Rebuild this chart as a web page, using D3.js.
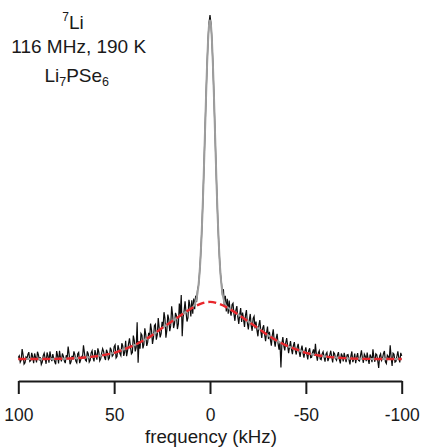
<!DOCTYPE html>
<html>
<head>
<meta charset="utf-8">
<script src="https://cdn.jsdelivr.net/npm/d3@7/dist/d3.min.js"></script>
<style>
  html, body { margin: 0; padding: 0; background: #fff; }
  svg { display: block; }
  text { font-family: "Liberation Sans", Arial, Helvetica, sans-serif; fill: #1a1a1a; }
</style>
</head>
<body>
<svg id="chart" width="422" height="447"></svg>
<script>
// ---- data (frequency in kHz, intensity in arbitrary units, peak = 100) ----
const tickValues = [100, 50, 0, -50, -100];
const tickLabels = ["100", "50", "0", "-50", "-100"];
const axisTitle = "frequency (kHz)";

// measured spectrum, left wing (100 → 10 kHz)
const dataLeft = [
  [100,0.4],[99.5,0.9],[99,-0.9],[98.5,-0.3],[98,2.9],[97.5,1.2],[97,-1.5],[96.5,-1.1],[96,0.6],[95.5,0.2],
  [95,1.3],[94.5,2.0],[94,-0.7],[93.5,-0.4],[93,1.8],[92.5,0.6],[92,-1.2],[91.5,1.6],[91,0.5],[90.5,-1.0],
  [90,2.1],[89.5,1.2],[89,-0.4],[88.5,0.5],[88,-1.6],[87.5,-0.9],[87,1.0],[86.5,1.7],[86,0.2],[85.5,-1.4],
  [85,1.9],[84.5,0.9],[84,-1.1],[83.5,2.2],[83,0.6],[82.5,-0.6],[82,1.4],[81.5,0.1],[81,-0.8],[80.5,-1.5],
  [80,2.3],[79.5,1.0],[79,-1.3],[78.5,2.4],[78,0.4],[77.5,-0.7],[77,1.6],[76.5,0.8],[76,-0.5],[75.5,-1.2],
  [75,1.1],[74.5,0.3],[74,3.6],[73.5,1.4],[73,-1.5],[72.5,-0.8],[72,0.9],[71.5,-0.2],[71,2.2],[70.5,1.3],
  [70,-0.6],[69.5,-1.1],[69,1.5],[68.5,1.9],[68,-1.2],[67.5,-0.3],[67,0.7],[66.5,0.5],[66,4.0],[65.5,1.8],
  [65,-0.3],[64.5,-0.6],[64,2.2],[63.5,1.5],[63,-0.9],[62.5,-0.4],[62,1.8],[61.5,2.4],[61,0.3],[60.5,-0.7],
  [60,2.6],[59.5,1.3],[59,-0.2],[58.5,3.1],[58,2.0],[57.5,-0.5],[57,0.1],[56.5,1.7],[56,3.0],[55.5,2.2],
  [55,0.4],[54.5,-0.3],[54,2.7],[53.5,1.9],[53,-0.1],[52.5,0.3],[52,3.3],[51.5,2.6],[51,0.8],[50.5,1.2],
  [50,3.6],[49.5,4.1],[49,0.3],[48.5,0.7],[48,4.0],[47.5,2.9],[47,1.6],[46.5,1.0],[46,4.6],[45.5,3.8],
  [45,0.9],[44.5,2.0],[44,5.3],[43.5,0.8],[43,2.4],[42.5,4.4],[42,6.0],[41.5,3.7],[41,1.5],[40.5,1.9],
  [40,6.8],[39.5,5.4],[39,2.2],[38.5,3.4],[38,10.7],[37.5,-1.1],[37,5.2],[36.5,3.0],[36,7.4],[35.5,6.9],
  [35,3.1],[34.5,4.2],[34,8.9],[33.5,7.1],[33,3.8],[32.5,4.9],[32,7.6],[31.5,6.0],[31,10.3],[30.5,8.4],
  [30,4.4],[29.5,6.1],[29,9.7],[28.5,10.1],[28,5.6],[27.5,7.0],[27,11.9],[26.5,8.9],[26,6.3],[25.5,7.4],
  [25,10.8],[24.5,9.1],[24,13.6],[23.5,11.8],[23,6.2],[22.5,8.4],[22,12.9],[21.5,11.6],[21,8.1],[20.5,9.7],
  [20,15.3],[19.5,12.8],[19,9.0],[18.5,10.3],[18,13.4],[17.5,12.6],[17,8.7],[16.5,10.2],[16,16.1],[15.5,12.9],
  [15,18.6],[14.5,6.6],[14,12.2],[13.5,14.0],[13,16.8],[12.5,13.5],[12,10.9],[11.5,12.0],[11,17.2],[10.5,15.6],
  [10,12.4]
];
// measured spectrum, central line (9.5 → -9.5 kHz)
const dataCenter = [
  [9.5,17.1],[9,13.2],[8.5,17.6],[8,14.5],[7.5,18.4],[7,16.6],[6.5,20.2],[6,21.3],[5.5,24.6],[5,28.9],
  [4.5,34.5],[4,41.4],[3.5,49.5],[3,58.6],[2.5,68.1],[2,77.5],[1.5,85.9],[1,92.9],[0.5,97.8],[0,100],
  [-0.5,97.6],[-1,92.8],[-1.5,85.9],[-2,77.5],[-2.5,68.1],[-3,58.6],[-3.5,49.5],[-4,41.4],[-4.5,34.5],[-5,28.9],
  [-5.5,24.6],[-6,22.0],[-6.5,18.5],[-7,20.3],[-7.5,15.1],[-8,18.4],[-8.5,13.8],[-9,17.5],[-9.5,13.2]
];
// measured spectrum, right wing (-10 → -100 kHz)
const dataRight = [
  [-10,17.0],[-10.5,13.9],[-11,12.6],[-11.5,15.8],[-12,16.2],[-12.5,13.0],[-13,11.1],[-13.5,14.2],[-14,15.4],[-14.5,12.3],
  [-15,10.2],[-15.5,12.9],[-16,14.8],[-16.5,10.8],[-17,13.5],[-17.5,11.6],[-18,9.3],[-18.5,12.7],[-19,14.2],[-19.5,10.4],
  [-20,8.6],[-20.5,11.3],[-21,13.1],[-21.5,9.6],[-22,8.2],[-22.5,11.8],[-23,12.4],[-23.5,8.9],[-24,10.9],[-24.5,8.3],
  [-25,6.6],[-25.5,9.9],[-26,11.3],[-26.5,8.1],[-27,6.1],[-27.5,9.0],[-28,9.8],[-28.5,7.1],[-29,5.2],[-29.5,7.6],
  [-30,9.4],[-30.5,5.8],[-31,7.9],[-31.5,5.6],[-32,3.9],[-32.5,6.9],[-33,8.6],[-33.5,5.3],[-34,3.6],[-34.5,5.9],
  [-35,7.3],[-35.5,4.6],[-36,2.7],[-36.5,4.9],[-37,-2.5],[-37.5,4.5],[-38,6.4],[-38.5,3.8],[-39,2.5],[-39.5,4.7],
  [-40,6.1],[-40.5,3.9],[-41,1.7],[-41.5,3.6],[-42,5.2],[-42.5,2.8],[-43,1.4],[-43.5,3.9],[-44,4.9],[-44.5,2.5],
  [-45,1.3],[-45.5,3.4],[-46,4.4],[-46.5,2.1],[-47,0.6],[-47.5,2.6],[-48,3.9],[-48.5,1.8],[-49,0.4],[-49.5,2.2],
  [-50,3.4],[-50.5,1.4],[-51,-0.1],[-51.5,2.4],[-52,3.1],[-52.5,0.4],[-53,0.5],[-53.5,1.9],[-54,2.8],[-54.5,0.9],
  [-55,4.4],[-55.5,1.2],[-56,-0.5],[-56.5,1.8],[-57,2.4],[-57.5,0.0],[-58,-0.2],[-58.5,1.5],[-59,2.1],[-59.5,0.6],
  [-60,-0.8],[-60.5,1.4],[-61,1.9],[-61.5,-0.6],[-62,0.3],[-62.5,1.2],[-63,2.4],[-63.5,0.5],[-64,-1.0],[-64.5,1.9],
  [-65,1.5],[-65.5,0.1],[-66,-0.4],[-66.5,1.1],[-67,2.0],[-67.5,-0.2],[-68,-1.3],[-68.5,1.6],[-69,0.9],[-69.5,-0.7],
  [-70,1.8],[-70.5,0.4],[-71,-0.9],[-71.5,1.2],[-72,1.3],[-72.5,-0.2],[-73,-1.6],[-73.5,0.9],[-74,2.2],[-74.5,-0.9],
  [-75,0.0],[-75.5,1.6],[-76,-1.2],[-76.5,0.5],[-77,1.7],[-77.5,-0.4],[-78,-0.6],[-78.5,1.0],[-79,2.5],[-79.5,0.3],
  [-80,-1.1],[-80.5,1.4],[-81,0.8],[-81.5,-0.6],[-82,1.9],[-82.5,-0.2],[-83,-1.4],[-83.5,1.3],[-84,0.6],[-84.5,-0.9],
  [-85,2.8],[-85.5,0.4],[-86,-0.8],[-86.5,1.5],[-87,1.2],[-87.5,-0.5],[-88,-2.6],[-88.5,0.9],[-89,1.5],[-89.5,-0.4],
  [-90,0.2],[-90.5,1.6],[-91,2.3],[-91.5,-0.8],[-92,-1.3],[-92.5,1.1],[-93,0.7],[-93.5,-0.2],[-94,4.0],[-94.5,0.5],
  [-95,-2.0],[-95.5,1.7],[-96,1.4],[-96.5,-0.9],[-97,-0.7],[-97.5,0.8],[-98,2.2],[-98.5,0.3],[-99,-1.0],[-99.5,1.8],
  [-100,0.9]
];

// broad component of the fit (red dashed)
const broadFreq = [100,95,90,85,80,75,70,65,60,55,50,45,40,35,30,25,20,15,10,5,0,
                   -5,-10,-15,-20,-25,-30,-35,-40,-45,-50,-55,-60,-65,-70,-75,-80,-85,-90,-95,-100];
const broadFit  = [0,0,0,0.02,0.05,0.1,0.25,0.45,0.75,1.2,1.8,2.8,3.9,5.3,7.0,9.0,10.9,12.8,14.6,16.0,16.6,
                   16.0,14.6,12.8,10.9,9.0,7.0,5.3,3.9,2.8,1.8,1.2,0.75,0.45,0.25,0.1,0.05,0.02,0,0,0];

// total fit (grey)
const fitFreq = [100,95,90,85,80,75,70,65,60,55,50,45,40,35,30,25,20,15,10,
                 9.5,9,8.5,8,7.5,7,6.5,6,5.5,5,4.5,4,3.5,3,2.5,2,1.5,1,0.5,0,
                 -0.5,-1,-1.5,-2,-2.5,-3,-3.5,-4,-4.5,-5,-5.5,-6,-6.5,-7,-7.5,-8,-8.5,-9,-9.5,
                 -10,-15,-20,-25,-30,-35,-40,-45,-50,-55,-60,-65,-70,-75,-80,-85,-90,-95,-100];
const fitTotal = [0,0,0,0.02,0.05,0.1,0.25,0.45,0.75,1.2,1.8,2.8,3.9,5.3,7.0,9.0,10.9,12.8,14.65,
                  14.9,15.1,15.4,15.9,16.6,17.7,19.25,21.5,24.6,28.9,34.5,41.4,49.5,58.6,68.1,77.5,85.9,92.7,97.0,98.5,
                  97.0,92.7,85.9,77.5,68.1,58.6,49.5,41.4,34.5,28.9,24.6,21.5,19.25,17.7,16.6,15.9,15.4,15.1,14.9,
                  14.65,12.8,10.9,9.0,7.0,5.3,3.9,2.8,1.8,1.2,0.75,0.45,0.25,0.1,0.05,0.02,0,0,0];

// ---- drawing ----
const svg = d3.select("#chart");
const x = d3.scaleLinear().domain([100, -100]).range([18.3, 401.7]);
const y = d3.scaleLinear().domain([0, 100]).range([359, 15]);

const spectrum = d3.sort(dataLeft.concat(dataCenter, dataRight), (a, b) => b[0] - a[0]);

svg.append("path")
  .datum(spectrum)
  .attr("fill", "none")
  .attr("stroke", "#0d0d0d")
  .attr("stroke-width", 1.2)
  .attr("d", d3.line().x(d => x(d[0])).y(d => y(d[1])));

const fitPts = fitFreq.map((f, i) => [f, fitTotal[i]]);
svg.append("path")
  .datum(fitPts)
  .attr("fill", "none")
  .attr("stroke", "#9d9d9d")
  .attr("stroke-width", 2)
  .attr("d", d3.line().curve(d3.curveMonotoneX).x(d => x(d[0])).y(d => y(d[1])));

const broadPts = broadFreq.map((f, i) => [f, broadFit[i]]);
svg.append("path")
  .datum(broadPts)
  .attr("fill", "none")
  .attr("stroke", "#e8262b")
  .attr("stroke-width", 2.4)
  .attr("stroke-dasharray", "8,4")
  .attr("d", d3.line().curve(d3.curveMonotoneX).x(d => x(d[0])).y(d => y(d[1])));

// axis
const axis = d3.axisBottom(x)
  .tickValues(tickValues)
  .tickFormat((d, i) => tickLabels[i])
  .tickSize(13)
  .tickSizeOuter(0);
const gx = svg.append("g").attr("transform", "translate(0,381)").call(axis);
gx.select(".domain").attr("stroke", "#1a1a1a").attr("stroke-width", 2);
gx.selectAll(".tick line").attr("stroke", "#1a1a1a").attr("stroke-width", 2);
gx.selectAll(".tick text")
  .attr("y", 40).attr("dy", null)
  .style("font-family", "'Liberation Sans', Arial, Helvetica, sans-serif")
  .style("font-size", "17.5px")
  .attr("fill", "#1a1a1a");

svg.append("text")
  .attr("x", 211).attr("y", 443)
  .attr("text-anchor", "middle")
  .style("font-size", "18.7px")
  .text(axisTitle);

// annotation
const t1 = svg.append("text").attr("x", 73).attr("y", 29.3).attr("text-anchor", "middle").style("font-size", "19px");
t1.append("tspan").text("7").style("font-size", "12px").attr("dy", -8);
t1.append("tspan").text("Li").attr("dy", 8);

svg.append("text").attr("x", 78.7).attr("y", 53.3).attr("text-anchor", "middle")
  .style("font-size", "19px").text("116 MHz, 190 K");

const t3 = svg.append("text").attr("x", 76.7).attr("y", 81.7).attr("text-anchor", "middle").style("font-size", "19px");
t3.append("tspan").text("Li");
t3.append("tspan").text("7").style("font-size", "12.5px").attr("dy", 4);
t3.append("tspan").text("PSe").attr("dy", -4);
t3.append("tspan").text("6").style("font-size", "12.5px").attr("dy", 4);
</script>
</body>
</html>
